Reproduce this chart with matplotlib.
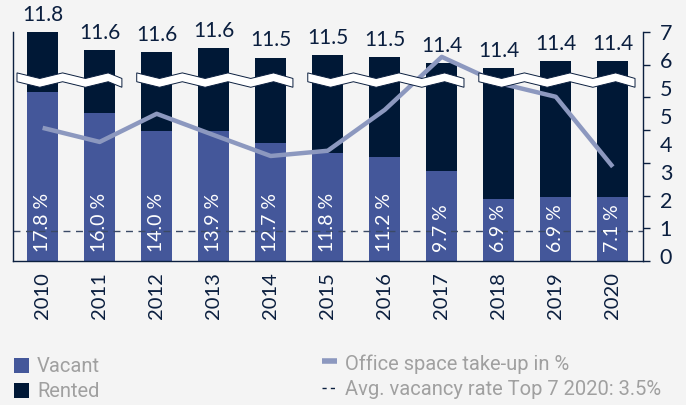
import matplotlib
matplotlib.use("Agg")
import matplotlib.pyplot as plt
import numpy as np
from matplotlib.patches import Polygon, Rectangle
from matplotlib.lines import Line2D

years = ["2010", "2011", "2012", "2013", "2014", "2015", "2016", "2017", "2018", "2019", "2020"]
total_labels = ["11.8", "11.6", "11.6", "11.6", "11.5", "11.5", "11.5", "11.4", "11.4", "11.4", "11.4"]
vacancy_labels = ["17.8 %", "16.0 %", "14.0 %", "13.9 %", "12.7 %", "11.8 %", "11.2 %", "9.7 %", "6.9 %", "6.9 %", "7.1 %"]
total_height = [7.0, 6.45, 6.39, 6.5, 6.22, 6.3, 6.24, 6.05, 5.9, 6.1, 6.1]
vacant_height = [5.17, 4.53, 3.98, 3.98, 3.62, 3.31, 3.19, 2.75, 1.9, 1.97, 1.97]
takeup = [4.07, 3.64, 4.5, 3.85, 3.21, 3.37, 4.62, 6.24, 5.44, 5.02, 2.88]
avg_vacancy = 0.93
right_tick_labels = ["0", "1", "2", "3", "4", "5", "5", "6", "7"]
break_groups = [(0, 1), (2, 4), (5, 7), (8, 10)]
legend_labels = ["Vacant", "Rented", "Office space take-up in %", "Avg. vacancy rate Top 7 2020: 3.5%"]

BG = "#f4f4f4"
VACANT = "#44579a"
RENTED = "#001836"
LINE = "#8c98bf"
DARK = "#0b1f3f"
GREY = "#a0a0a0"

plt.rcParams["font.family"] = ["Lato", "DejaVu Sans"]

W, H = 686, 405
fig = plt.figure(figsize=(W/100, H/100), dpi=100, facecolor=BG)
ax = fig.add_axes([13/W, (H-261)/H, (643-13)/W, (261-32)/H])
ax.set_facecolor(BG)

x = np.arange(len(years))
rented = np.array(total_height) - np.array(vacant_height)
bw = 0.55
ax.bar(x, vacant_height, width=bw, color=VACANT, zorder=2)
ax.bar(x, rented, bottom=vacant_height, width=bw, color=RENTED, zorder=2)
ax.plot(x, takeup, color=LINE, lw=3.2, zorder=3, solid_capstyle="butt")
ax.axhline(avg_vacancy, color="#3b4a66", lw=1.0, ls=(0, (5, 4)), zorder=2.5)

for xi, th, tl, vl in zip(x, total_height, total_labels, vacancy_labels):
    ax.text(xi, th + 0.22, tl, ha="center", va="bottom", fontsize=15, color=DARK, clip_on=False)
    ax.text(xi, 0.28, vl, ha="center", va="bottom", rotation=90, fontsize=14, color="white", zorder=4)

# axis-break bands
yc, amp, thick, half = 5.53, 0.17, 0.27, 0.4
for g0, g1 in break_groups:
    x0 = g0 - (0.45 if g0 == 0 else 0.35)
    x1 = g1 + 0.39
    xs = np.arange(x0, x1, half)
    xs = np.append(xs, x1)
    offs = np.array([amp/2 if i % 2 == 0 else -amp/2 for i in range(len(xs))])
    top = np.column_stack([xs, yc + thick/2 + offs])
    bot = np.column_stack([xs[::-1], (yc - thick/2 + offs)[::-1]])
    poly = Polygon(np.vstack([top, bot]), closed=True, facecolor="white",
                   edgecolor=DARK, lw=0.7, zorder=5)
    ax.add_patch(poly)

ax.set_xlim(-0.52, 10.53)
ax.set_ylim(0, 7)
ax.set_xticks(x)
ax.set_xticklabels(years, rotation=90, fontsize=14.5, color=DARK)
ax.tick_params(axis="x", length=0, pad=8)
ax.tick_params(axis="y", which="both", left=False, labelleft=False,
               right=True, labelright=True)
ax.set_yticks(np.linspace(0.15, 6.995, 9))
ax.set_yticklabels(right_tick_labels, fontsize=15.5, color=DARK)
ax.tick_params(axis="y", which="major", length=0, pad=12)
ax.set_yticks(range(8), minor=True)
ax.tick_params(axis="y", which="minor", length=5, width=1, color=DARK)
for s in ["left", "bottom", "right"]:
    ax.spines[s].set_color(DARK)
    ax.spines[s].set_linewidth(1.0)
ax.spines["top"].set_visible(False)

# legend (figure pixel layout)
def fx(px):
    return px / W

def fy(py):
    return (H - py) / H

lfont = dict(fontsize=14.5, color=GREY, family=["Roboto", "DejaVu Sans"], fontweight="normal",
             va="baseline", ha="left")
fig.patches.append(Rectangle((fx(14), fy(373)), 15/W, 15/H, transform=fig.transFigure,
                             facecolor=VACANT, edgecolor="none"))
fig.patches.append(Rectangle((fx(14), fy(398)), 15/W, 15/H, transform=fig.transFigure,
                             facecolor=RENTED, edgecolor="none"))
fig.text(fx(37), fy(372), legend_labels[0], **lfont)
fig.text(fx(37), fy(397), legend_labels[1], **lfont)
fig.lines.append(Line2D([fx(322), fx(337)], [fy(361), fy(361)], transform=fig.transFigure,
                        color=LINE, lw=4, solid_capstyle="butt"))
fig.lines.append(Line2D([fx(322), fx(337)], [fy(388), fy(388)], transform=fig.transFigure,
                        color=DARK, lw=1, ls=(0, (3, 3))))
fig.text(fx(345), fy(370), legend_labels[2], **lfont)
fig.text(fx(345), fy(395), legend_labels[3], **lfont)

fig.savefig("out.png", dpi=100, facecolor=BG)
